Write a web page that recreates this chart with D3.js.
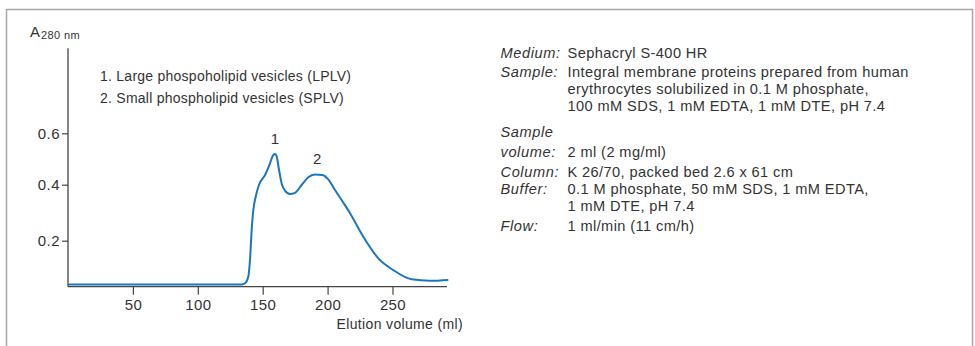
<!DOCTYPE html>
<html>
<head>
<meta charset="utf-8">
<script src="https://cdn.jsdelivr.net/npm/d3@7"></script>
<style>
  html, body { margin: 0; padding: 0; background: #fff; }
  svg { display: block; }
  text { font-family: "Liberation Sans", Arial, sans-serif; fill: #333; }
</style>
</head>
<body>
<svg id="chart" width="975" height="346"></svg>
<script>
// ---- data ----
const elutionVolume = [0, 60, 120, 133.8, 136.4, 138.9, 140.2, 141.5, 142.8, 144.6, 147.1, 151.8, 155.6, 158.2, 159.5, 160.8, 162.6, 164.6, 167.2, 171.0, 174.9, 180.0, 185.1, 190.3, 195.9, 200.5, 205.7, 213.4, 217.3, 227.5, 239.1, 250.6, 264.8, 278.9, 293];
const absorbance    = [0.044, 0.044, 0.044, 0.044, 0.048, 0.071, 0.131, 0.238, 0.310, 0.357, 0.399, 0.438, 0.483, 0.516, 0.519, 0.509, 0.457, 0.405, 0.379, 0.367, 0.371, 0.399, 0.429, 0.440, 0.438, 0.421, 0.381, 0.327, 0.298, 0.214, 0.137, 0.095, 0.062, 0.057, 0.060];
const xTicks = [50, 100, 150, 200, 250];
const yTicks = [0.2, 0.4, 0.6];
const peakLabels = ["1", "2"];
const peakVolumes = [159.5, 192];
const peakValues = [0.519, 0.440];
const legendLines = ["1. Large phospoholipid vesicles (LPLV)", "2. Small phospholipid vesicles (SPLV)"];
const yTitle = "A";
const yTitleSub = "280 nm";
const xTitle = "Elution volume (ml)";
const infoLabels = [["Medium:"], ["Sample:"], ["Sample", "volume:"], ["Column:"], ["Buffer:"], ["Flow:"]];
const infoValues = [
  ["Sephacryl S-400 HR"],
  ["Integral membrane proteins prepared from human", "erythrocytes solubilized in 0.1 M phosphate,", "100 mM SDS, 1 mM EDTA, 1 mM DTE, pH 7.4"],
  ["", "2 ml (2 mg/ml)"],
  ["K 26/70, packed bed 2.6 x 61 cm"],
  ["0.1 M phosphate, 50 mM SDS, 1 mM EDTA,", "1 mM DTE, pH 7.4"],
  ["1 ml/min (11 cm/h)"]
];

// ---- layout ----
const svg = d3.select("#chart");
const x = d3.scaleLinear().domain([0, 292]).range([68, 447]);
const y = d3.scaleLinear().domain([0.2, 0.4, 0.6]).range([240.7, 184.7, 133.3]);
const axisY0 = 286.7, axisTop = 48.3;

// frame
svg.append("path")
  .attr("d", "M6.5,346 L6.5,9.5 L972.5,9.5 L972.5,346")
  .attr("fill", "none").attr("stroke", "#a6a6a6").attr("stroke-width", 1.5);

const axisColor = "#444";
// x axis
const xAxis = svg.append("g").attr("transform", `translate(0,${axisY0})`)
  .call(d3.axisBottom(x).tickValues(xTicks).tickSize(8).tickPadding(5).tickSizeOuter(0));
xAxis.select(".domain").attr("stroke", axisColor).attr("stroke-width", 1.3)
  .attr("d", `M${x(0)},0H${x(292)}`);
xAxis.selectAll(".tick line").attr("stroke", axisColor).attr("stroke-width", 1.2);
xAxis.selectAll(".tick text").attr("font-size", 15).attr("fill", "#333")
  .style("letter-spacing", "0.4px").attr("font-family", "Liberation Sans, Arial, sans-serif");

// y axis
const yAxis = svg.append("g").attr("transform", `translate(${x(0)},0)`)
  .call(d3.axisLeft(y).tickValues(yTicks).tickFormat(d3.format(".1f")).tickSize(6).tickPadding(2).tickSizeOuter(0));
yAxis.select(".domain").attr("d", `M0,${axisTop}V${axisY0}`).attr("stroke", axisColor).attr("stroke-width", 1.3);
yAxis.selectAll(".tick line").attr("stroke", axisColor).attr("stroke-width", 1.2);
yAxis.selectAll(".tick text").attr("font-size", 15).attr("fill", "#333")
  .style("letter-spacing", "0.5px").attr("font-family", "Liberation Sans, Arial, sans-serif");

// curve
const pts = elutionVolume.map((v, i) => [v, absorbance[i]]);
svg.append("path")
  .datum(pts)
  .attr("fill", "none")
  .attr("stroke", "#1a76c0")
  .attr("stroke-width", 2)
  .attr("stroke-linejoin", "round")
  .attr("d", d3.line().x(d => x(d[0])).y(d => y(d[1])).curve(d3.curveMonotoneX));

// peak labels
peakLabels.forEach((lab, i) => {
  svg.append("text").attr("x", x(peakVolumes[i])).attr("y", y(peakValues[i]) - 10)
    .attr("text-anchor", "middle").attr("font-size", 15).text(lab);
});

// y title
const yt = svg.append("text").attr("x", 30).attr("y", 36.5).attr("font-size", 15);
yt.append("tspan").text(yTitle);
yt.append("tspan").attr("dx", 1).attr("dy", 2).attr("font-size", 11).style("letter-spacing", "0.4px").text(yTitleSub);

// x title
svg.append("text").attr("x", 463).attr("y", 329).attr("text-anchor", "end")
  .attr("font-size", 14).style("letter-spacing", "0.35px").text(xTitle);

// legend
legendLines.forEach((t, i) => {
  svg.append("text").attr("x", 100).attr("y", 81 + i * 22.3)
    .attr("font-size", 14).style("letter-spacing", "0.25px").text(t);
});

// info block
const labelX = 500.5, valueX = 567.5;
const rowStarts = [58.3, 77.3, 136.7, 176.7, 194.3, 230.7];
const lineH = [17, 16.7, 20.6, 17, 16.4, 17];
infoLabels.forEach((labs, r) => {
  labs.forEach((l, j) => {
    svg.append("text").attr("x", labelX).attr("y", rowStarts[r] + j * lineH[r])
      .attr("font-size", 14.6).attr("font-style", "italic").style("letter-spacing", "0.6px").text(l);
  });
  infoValues[r].forEach((v, j) => {
    if (!v) return;
    svg.append("text").attr("x", valueX).attr("y", rowStarts[r] + j * lineH[r])
      .attr("font-size", 14.6).style("letter-spacing", "0.4px").text(v);
  });
});
</script>
</body>
</html>
